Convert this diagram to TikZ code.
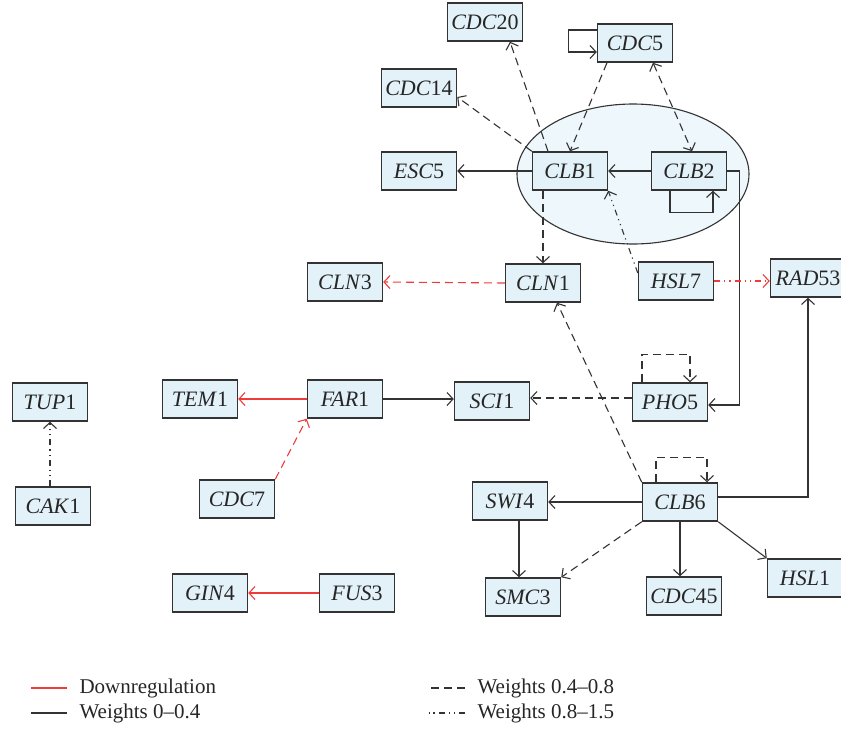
\documentclass[tikz,border=0pt]{standalone}
\usepackage{fontspec}
\setmainfont{Liberation Serif}
\usetikzlibrary{arrows.meta}
\definecolor{boxfill}{HTML}{E3F1F9}
\definecolor{ovalfill}{HTML}{EEF7FC}
\definecolor{edgegray}{HTML}{333333}
\definecolor{downred}{HTML}{EE3B3B}
\begin{document}
\begin{tikzpicture}[x=0.5pt, y=-0.5pt, line width=0.55pt, color=edgegray,
    >={Straight Barb[length=3pt,width=6.5pt]},
    main/.style = {draw=edgegray, fill=boxfill, line width=0.75pt, minimum width=37.5pt,
        minimum height=19pt, inner sep=1pt, text=black!85, font=\fontsize{11}{13}\selectfont},
    lgd/.style = {anchor=west, inner sep=0pt, text=black!85, font=\fontsize{10.5}{12}\selectfont},
    wdash/.style = {dash pattern=on 4pt off 2.5pt},
    wdot/.style = {dash pattern=on 3pt off 2pt on 0.6pt off 2pt on 0.6pt off 2pt},
    down/.style = {color=downred}]
    \useasboundingbox (0,0) rectangle (841,729);
    \draw[fill=ovalfill] (633,174) ellipse [x radius=58pt, y radius=35pt];
    \node[main] (cdc20) at (485,22) {\textit{CDC}20};
    \node[main] (cdc5) at (635,43) {\textit{CDC}5};
    \node[main] (cdc14) at (419,88) {\textit{CDC}14};
    \node[main] (esc5) at (419,171) {\textit{ESC}5};
    \node[main] (clb1) at (570,171) {\textit{CLB}1};
    \node[main] (clb2) at (689,171) {\textit{CLB}2};
    \node[main] (cln1) at (543,283) {\textit{CLN}1};
    \node[main] (cln3) at (345,282) {\textit{CLN}3};
    \node[main] (hsl7) at (676,281) {\textit{HSL}7};
    \node[main] (rad53) at (808,278) {\textit{RAD}53};
    \node[main] (tup1) at (50,402) {\textit{TUP}1};
    \node[main] (tem1) at (200,399) {\textit{TEM}1};
    \node[main] (far1) at (345,399) {\textit{FAR}1};
    \node[main] (sci1) at (492,401) {\textit{SCI}1};
    \node[main] (pho5) at (670,402) {\textit{PHO}5};
    \node[main] (cak1) at (53,506) {\textit{CAK}1};
    \node[main] (cdc7) at (237,499) {\textit{CDC}7};
    \node[main] (swi4) at (510,501) {\textit{SWI}4};
    \node[main] (clb6) at (680,502) {\textit{CLB}6};
    \node[main] (smc3) at (523,597) {\textit{SMC}3};
    \node[main] (cdc45) at (684,596) {\textit{CDC}45};
    \node[main] (hsl1) at (805,578) {\textit{HSL}1};
    \node[main] (gin4) at (210,593) {\textit{GIN}4};
    \node[main] (fus3) at (357,593) {\textit{FUS}3};
    \draw[->,wdash] ([xshift=-11pt]clb1.north) -- ([xshift=12.5pt]cdc20.south);
    \draw[->,wdash] ([xshift=-14pt]cdc5.south) -- (clb1.north);
    \draw[<->,wdash] ([xshift=9pt]cdc5.south) -- ([xshift=1.5pt]clb2.north);
    \draw[->,wdash] (clb1.north west) -- ([yshift=-4.5pt]cdc14.east);
    \draw[->] (clb1.west) -- (esc5.east);
    \draw[->] (clb2.west) -- (clb1.east);
    \draw[->,wdash] ([xshift=-13.5pt]clb1.south) -- (cln1.north);
    \draw[->,wdot] ([yshift=4pt]hsl7.west) -- (clb1.south east);
    \draw[->] (clb2.east) -- ++(12,0) |- ([yshift=-1.5pt]pho5.east);
    \draw[->] ([yshift=6.5pt]cdc5.west) -- ++(-28,0) |- ([yshift=-4.5pt]cdc5.west);
    \draw[->] ([xshift=-9.5pt]clb2.south) -- ++(0,22) -| ([xshift=12pt]clb2.south);
    \draw[->,down,wdash] (cln1.west) -- (cln3.east);
    \draw[->,down,wdot] (hsl7.east) -- (hsl7.east -| rad53.west);
    \draw[->] ([yshift=2.5pt]clb6.east) -| (rad53.south);
    \draw[->,wdash] ([xshift=-14pt]pho5.north) -- ++(0,-28) -| ([xshift=10pt]pho5.north);
    \draw[->,wdash] ([yshift=2pt]pho5.west) -- ([yshift=2pt]pho5.west -| sci1.east);
    \draw[->] (far1.east) -- (far1.east -| sci1.west);
    \draw[->,down] (far1.west) -- (tem1.east);
    \draw[->,down,wdash] (cdc7.north east) -- (far1.south west);
    \draw[->,wdot] (cak1.north -| tup1) -- (tup1.south);
    \draw[->,down] (fus3.west) -- (gin4.east);
    \draw[->,wdash] (clb6.north west) -- ([xshift=7pt]cln1.south);
    \draw[->,wdash] ([xshift=-12pt]clb6.north) -- ++(0,-25) -| ([xshift=13.5pt]clb6.north);
    \draw[->] (clb6.west) -- (clb6.west -| swi4.east);
    \draw[->] ([xshift=4.5pt]swi4.south) -- ([xshift=4.5pt]swi4.south |- smc3.north);
    \draw[->,wdash] (clb6.south west) -- (smc3.north east);
    \draw[->] (clb6.south) -- (clb6.south |- cdc45.north);
    \draw[->] (clb6.south east) -- (hsl1.north west);
    \node[lgd] (lgdown) at (79,688) {Downregulation};
    \node[lgd] (lglow) at (79,713) {Weights 0--0.4};
    \node[lgd] (lgmid) at (477,688) {Weights 0.4--0.8};
    \node[lgd] (lghigh) at (477,713) {Weights 0.8--1.5};
    \draw[down] ([xshift=-6pt]lgdown.west) -- ++(-36,0);
    \draw ([xshift=-6pt]lglow.west) -- ++(-36,0);
    \draw[wdash] ([xshift=-6pt]lgmid.west) -- ++(-36,0);
    \draw[wdot] ([xshift=-6pt]lghigh.west) -- ++(-36,0);
\end{tikzpicture}
\end{document}
